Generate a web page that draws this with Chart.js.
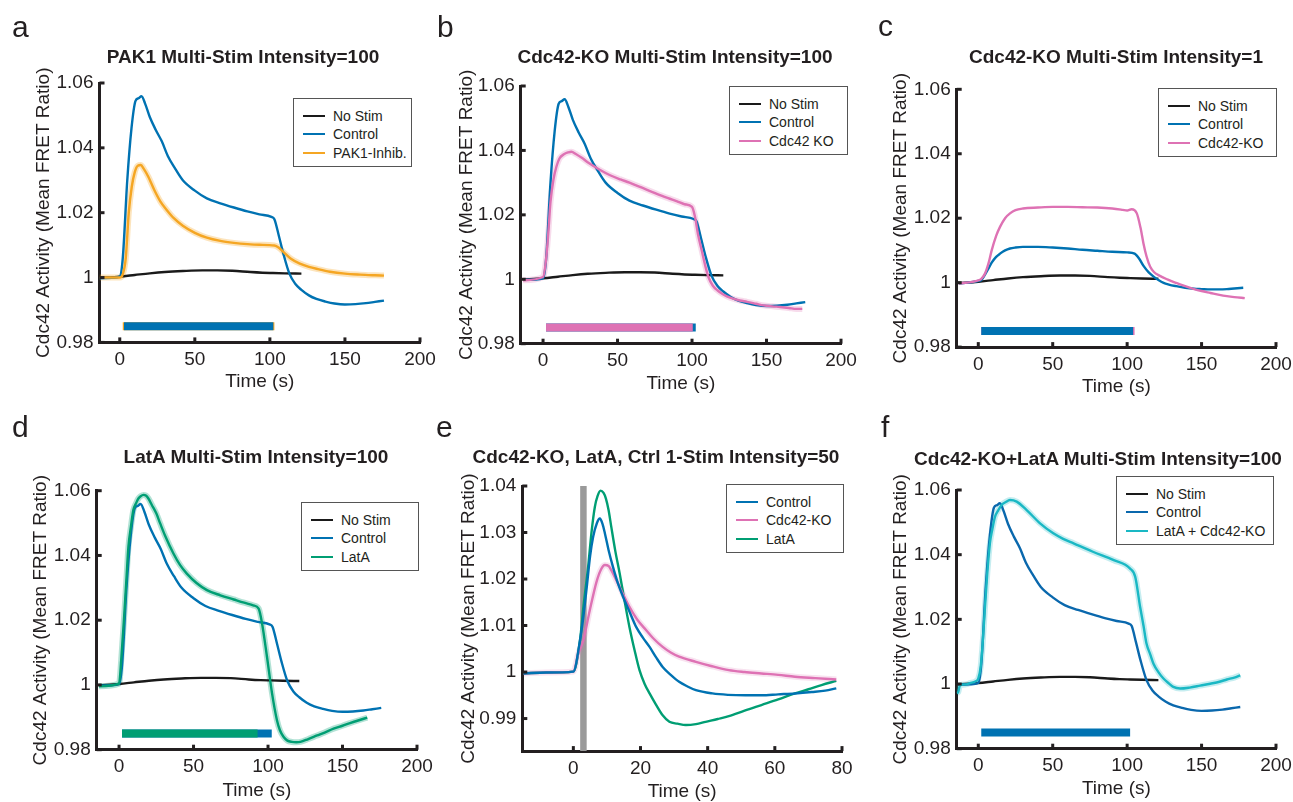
<!DOCTYPE html>
<html lang="en">
<head>
<meta charset="UTF-8">
<title>Cdc42 Activity</title>
<script src="https://cdn.jsdelivr.net/npm/chart.js"></script>
<style>
  body { margin:0; width:1293px; height:802px; background:#fff; position:relative; overflow:hidden;
         font-family:"Liberation Sans", Arial, sans-serif; color:#231f20; }
  canvas { position:absolute; }
  .letter { position:absolute; font-size:30px; line-height:30px; }
  .ttl { position:absolute; width:460px; text-align:center; font-weight:bold; font-size:19px; line-height:19px; white-space:nowrap; }
  .lg { position:absolute; border:1.5px solid #555; background:#fff; box-sizing:border-box; }
  .lg .row { position:absolute; left:0; height:14px; font-size:14px; line-height:14px; white-space:nowrap; }
  .lg .ln { position:absolute; left:9px; top:6px; width:22px; height:2px; }
  .lg .tx { position:absolute; left:39px; top:0; }
</style>
</head>
<body>
<script>
// ---- data (time in s, mean FRET ratio) ----
const noStimT = [-13.5, 0, 10, 20, 30, 42, 55, 65, 75, 87, 95, 102, 110, 121];
const noStimY = [0.9999, 1.0003, 1.0008, 1.0013, 1.0017, 1.0020, 1.0022, 1.0022, 1.0021, 1.0017, 1.0015, 1.0014, 1.0013, 1.0012];

const ctrlT = [-13.5, -5, 0, 2, 5, 7.8, 10.5, 12.5, 14.5, 17, 20, 24, 28, 32, 37, 42, 50, 58, 67, 76,
               85, 93, 101, 103, 106, 109, 113, 117, 121, 126, 131, 137, 143, 150, 157, 164, 170, 176];
const ctrlY = [0.9998, 0.9999, 1.0003, 1.006, 1.030, 1.046, 1.0545, 1.0553, 1.0559, 1.0535, 1.0495, 1.0455, 1.042, 1.0375, 1.0335, 1.0300, 1.0268, 1.0244, 1.0229, 1.0216,
               1.0204, 1.0195, 1.0187, 1.0180, 1.0128, 1.0073, 1.0012, 0.9980, 0.9962, 0.9945, 0.9934, 0.9926, 0.9920, 0.9917, 0.9918, 0.9921, 0.9925, 0.9929];

const pakT = [-13.5, 0, 2, 4, 6, 8, 10, 12, 14, 16, 19, 23, 27, 31, 36, 42, 50, 58, 67, 76,
              85, 93, 103, 106, 109, 114, 120, 126, 132, 140, 150, 160, 170, 176];
const pakY = [1.0, 1.0, 1.001, 1.006, 1.020, 1.028, 1.0325, 1.0345, 1.0347, 1.0335, 1.0311, 1.027, 1.0235, 1.021, 1.0183, 1.016, 1.0138, 1.0123, 1.0113, 1.0107,
              1.0103, 1.0101, 1.0099, 1.0092, 1.0079, 1.0058, 1.0043, 1.0033, 1.0026, 1.0018, 1.0012, 1.0009, 1.0007, 1.0006];

const koT = [-13.5, 0, 2, 3.5, 5, 7, 9, 11, 14, 17, 19, 22, 26, 31, 38, 45, 52, 58, 66, 76,
             84, 90, 95, 100, 102, 104, 106.5, 109, 111, 114, 117, 121, 126, 132, 137, 143, 148, 154, 159, 165, 170, 174];
const koY = [0.9997, 1.0007, 1.006, 1.0142, 1.024, 1.031, 1.035, 1.0375, 1.0388, 1.0394, 1.0396, 1.0389, 1.0377, 1.036, 1.034, 1.0323, 1.031, 1.030, 1.0285, 1.0266,
             1.0252, 1.0242, 1.0233, 1.0225, 1.0194, 1.014, 1.009, 1.004, 1.0007, 0.998, 0.9966, 0.9953, 0.9942, 0.9934, 0.993, 0.9924, 0.9919, 0.9916, 0.9914, 0.9911, 0.9908, 0.9908];

const cCtrlT = [-13, 0, 2, 4.5, 7, 9, 12, 14.6, 18, 21.3, 25, 30, 40, 50, 60, 70, 80, 90, 100, 105,
                108, 111, 114.5, 118, 121, 124.5, 128, 133, 139, 145, 150, 156, 162, 167, 172, 178];
const cCtrlY = [0.9997, 1.0005, 1.0008, 1.0025, 1.0045, 1.0062, 1.008, 1.009, 1.0100, 1.0106, 1.0109, 1.0111, 1.0111, 1.0109, 1.0106, 1.0102, 1.0099, 1.0096, 1.0094, 1.009,
                1.0075, 1.0052, 1.0032, 1.0018, 1.0008, 0.9999, 0.9994, 0.9989, 0.9984, 0.9981, 0.998, 0.9979, 0.9979, 0.998, 0.9982, 0.9984];

const cKoT = [-13, 0, 2, 4.5, 7, 9, 12, 14.6, 18, 21.3, 25, 30, 40, 50, 60, 70, 80, 90, 97, 100,
              103, 106.5, 109, 111, 113, 115.5, 118, 122, 127, 133, 139, 145, 150, 156, 162, 167, 172, 179];
const cKoY = [0.9997, 1.0007, 1.0012, 1.0028, 1.0062, 1.01, 1.0145, 1.0173, 1.0200, 1.0215, 1.0225, 1.023, 1.0233, 1.0235, 1.0235, 1.0234, 1.0233, 1.023, 1.0226, 1.0224,
              1.0228, 1.0215, 1.017, 1.0121, 1.0082, 1.0049, 1.0033, 1.0021, 1.001, 0.9999, 0.9989, 0.998, 0.9974, 0.9968, 0.9962, 0.9958, 0.9955, 0.9952];

const latT = [-13.5, 0, 1.5, 3.4, 5, 6.3, 8, 9.6, 11.5, 13, 14.5, 16.4, 18, 19.7, 22, 25, 27.6, 31, 36.5, 41,
              45.5, 52, 59, 68, 77, 84, 90, 93.7, 96, 99.3, 102.7, 106, 108, 110.5, 113, 116, 119, 121.7, 127, 133,
              138, 144, 150, 155, 161, 166.6];
const latY = [0.9996, 1.0004, 1.008, 1.021, 1.033, 1.0427, 1.049, 1.054, 1.0562, 1.0576, 1.0583, 1.0587, 1.0585, 1.0576, 1.0556, 1.053, 1.0499, 1.046, 1.0406, 1.037,
              1.0344, 1.0315, 1.0293, 1.0277, 1.0264, 1.0254, 1.0246, 1.0236, 1.019, 1.0087, 0.9974, 0.9891, 0.986, 0.9839, 0.9828, 0.9824, 0.9823, 0.9824, 0.9833, 0.9844,
              0.9853, 0.9865, 0.9874, 0.9882, 0.9891, 0.9899];

const latKoT = [-14.5, -13.5, -12.3, -8, -5.6, -2, 0, 1.6, 3, 4.5, 6, 7.8, 9.5, 11.2, 13.5, 15.7, 18.5, 21.3, 25.8, 32.5,
                41.5, 50.4, 57, 64, 77, 91, 102, 105.4, 108.7, 111, 113, 115.5, 117.7, 121, 124.4, 128, 131, 135.6, 142, 149,
                155.8, 162, 167, 172, 176];
const latKoY = [0.9972, 0.9975, 0.9996, 0.9999, 1.0003, 1.0008, 1.0017, 1.0053, 1.013, 1.0239, 1.034, 1.0435, 1.048, 1.0517, 1.0538, 1.0554, 1.0563, 1.0569, 1.0564, 1.0538,
                1.0497, 1.0466, 1.0449, 1.0435, 1.0409, 1.0383, 1.0357, 1.0332, 1.0239, 1.018, 1.0125, 1.0092, 1.0063, 1.0037, 1.0017, 1.0002, 0.9991, 0.9986, 0.9989, 0.9995,
                1.0001, 1.0007, 1.0014, 1.002, 1.0027];

// panel e: single stimulus, intensity 50
const eCtrlT = [-14.8, -8, 0, 2, 3, 4, 5, 5.9, 7, 7.9, 8.7, 9.4, 10.5, 11.8, 13.3, 14.8, 16.7, 18.7, 20.7, 22.7,
                24.6, 26.6, 29, 31.5, 34, 36.5, 41.4, 46, 51.2, 56, 61, 66, 71, 75, 78.3];
const eCtrlY = [0.9997, 0.9999, 1.0001, 1.0069, 1.012, 1.0183, 1.025, 1.0291, 1.032, 1.033, 1.0318, 1.0298, 1.0262, 1.0226, 1.019, 1.0162, 1.013, 1.0097, 1.0074, 1.0054,
                1.0032, 1.0011, 0.9994, 0.9979, 0.9969, 0.9961, 0.9954, 0.9951, 0.995, 0.995, 0.9952, 0.9954, 0.9957, 0.996, 0.9965];
const eKoT = [-14.8, -8, 0, 1.5, 3, 4.9, 6.9, 8.2, 9.4, 10.5, 11.3, 12.5, 13.8, 16.7, 19, 21.7, 24, 26.6, 29, 31.5,
              36.5, 41, 46.3, 51, 56, 61, 66, 72, 78.3];
const eKoY = [0.9997, 0.9999, 1.0001, 1.004, 1.0069, 1.0133, 1.0194, 1.022, 1.023, 1.0228, 1.0219, 1.0202, 1.0183, 1.014, 1.0113, 1.009, 1.0071, 1.0054, 1.0042, 1.0033,
              1.0022, 1.0013, 1.0004, 1.0, 0.9997, 0.9994, 0.999, 0.9987, 0.9984];
const eLatT = [-14.8, -8, 0, 2, 3, 4.4, 5.4, 6.4, 7.2, 8.1, 9, 9.7, 10.5, 11.3, 12.5, 13.8, 15.2, 16.7, 18.2, 19.7,
               21.2, 22.7, 24.6, 26.6, 28.6, 31, 33.5, 36.5, 39.4, 43, 46.3, 51, 56, 61, 66, 70, 73.9, 78.3];
const eLatY = [0.9997, 0.9999, 1.0001, 1.0069, 1.014, 1.0226, 1.03, 1.0355, 1.0378, 1.039, 1.0385, 1.0373, 1.0348, 1.0312, 1.026, 1.0212, 1.0155, 1.0097, 1.0048, 1.0004,
               0.9975, 0.9954, 0.993, 0.9907, 0.9893, 0.9889, 0.9886, 0.9888, 0.9893, 0.9899, 0.9905, 0.9917, 0.9929, 0.9941, 0.9954, 0.9963, 0.9972, 0.9981];

// stimulation periods (s) and level of the stim bar
const stimLevel = 0.985;
const stimA = [2, 103], stimA2 = [2.8, 102.3];
const stimB = [2, 102.5], stimB2 = [2, 100.5];
const stimC = [2, 105], stimC2 = [2, 104];
const stimD = [2, 102.5], stimD2 = [2, 93];
const stimF = [2, 102];
const pulseE = [3, 0.983, 1.04];   // x, y from, y to

// axis ticks
const xTicks = [0, 50, 100, 150, 200];
const yTicks = [0.98, 1, 1.02, 1.04, 1.06];
const xTicksE = [0, 20, 40, 60, 80];
const yTicksE = [0.99, 1, 1.01, 1.02, 1.03, 1.04];

// ---- styles ----
const FONT = '"Liberation Sans", Arial, sans-serif';
const INK = '#231f20';
const C = { black: '#1a1a1a', blue: '#0072b2', orange: '#f5a623', pink: '#de72b4', green: '#009e73', cyan: '#1ab8c4', gray: '#9a9a9a' };

function xy(ts, ys) { return ts.map((t, i) => ({ x: t, y: ys[i] })); }
function curve(label, ts, ys, color, order) {
  return { label, data: xy(ts, ys), borderColor: color, borderWidth: 2.4, pointRadius: 0,
           cubicInterpolationMode: 'monotone', order: order };
}
function band(ts, ys, color) {
  return { data: xy(ts, ys), borderColor: color, borderWidth: 6, pointRadius: 0,
           cubicInterpolationMode: 'monotone', order: 8 };
}
function bar(range, color, order) {
  return { data: [{ x: range[0], y: stimLevel }, { x: range[1], y: stimLevel }], borderColor: color,
           borderWidth: 8, borderCapStyle: 'butt', pointRadius: 0, order: order };
}

const inwardTicks = {
  id: 'inwardTicks',
  afterDraw(chart) {
    const { ctx, scales: { x, y } } = chart;
    ctx.save();
    ctx.strokeStyle = INK; ctx.lineWidth = 3;
    x.ticks.forEach(t => {
      const px = x.getPixelForValue(t.value);
      ctx.beginPath(); ctx.moveTo(px, y.bottom); ctx.lineTo(px, y.bottom - 5); ctx.stroke();
    });
    y.ticks.forEach(t => {
      const py = y.getPixelForValue(t.value);
      ctx.beginPath(); ctx.moveTo(x.left, py); ctx.lineTo(x.left + 5, py); ctx.stroke();
    });
    ctx.restore();
  }
};

function panel(g, xr, yr, xt, yt, datasets) {
  const pl = g.yTitleX - 13.6 - g.x0;
  const W = Math.round(g.r - g.x0 + 32);
  const H = Math.round(g.xTitleY + 13.6 - g.y0);
  const cv = document.createElement('canvas');
  cv.width = W; cv.height = H;
  cv.style.left = g.x0 + 'px'; cv.style.top = g.y0 + 'px';
  document.body.appendChild(cv);
  new Chart(cv, {
    type: 'line',
    data: { datasets },
    options: {
      responsive: false, animation: false, devicePixelRatio: 1,
      layout: { padding: { left: pl, right: 32, top: g.t - g.y0, bottom: 0 } },
      plugins: { legend: { display: false }, tooltip: { enabled: false } },
      scales: {
        x: {
          type: 'linear', min: xr[0], max: xr[1],
          grid: { display: false, drawTicks: false },
          border: { color: INK, width: 3 },
          afterBuildTicks: s => { s.ticks = xt.map(v => ({ value: v })); },
          afterFit: s => { s.height = g.xTitleY + 13.6 - g.b; },
          ticks: { color: INK, font: { family: FONT, size: 19 }, padding: 6, maxRotation: 0, autoSkip: false },
          title: { display: true, text: 'Time (s)', color: INK, font: { family: FONT, size: 19 } }
        },
        y: {
          type: 'linear', min: yr[0], max: yr[1],
          grid: { display: false, drawTicks: false },
          border: { color: INK, width: 3 },
          afterBuildTicks: s => { s.ticks = yt.map(v => ({ value: v })); },
          afterFit: s => { s.width = g.l - g.x0 - pl; },
          ticks: { color: INK, font: { family: FONT, size: 19 }, padding: 6, autoSkip: false,
                   callback: v => (Math.abs(v - 1) < 1e-9 ? '1' : v.toFixed(2)) },
          title: { display: true, text: 'Cdc42 Activity (Mean FRET Ratio)', color: INK, font: { family: FONT, size: 19 } }
        }
      }
    },
    plugins: [inwardTicks]
  });
}

function label(letter, x, baseline, title, cx, tBase) {
  const l = document.createElement('div');
  l.className = 'letter'; l.textContent = letter;
  l.style.left = x + 'px'; l.style.top = (baseline - 25.4) + 'px';
  document.body.appendChild(l);
  const t = document.createElement('div');
  t.className = 'ttl'; t.textContent = title;
  t.style.left = (cx - 230) + 'px'; t.style.top = Math.round(tBase - 16) + 'px';
  document.body.appendChild(t);
}

function legend(x, y, w, entries) {
  const box = document.createElement('div');
  box.className = 'lg';
  box.style.left = x + 'px'; box.style.top = y + 'px';
  box.style.width = w + 'px'; box.style.height = '69px';
  entries.forEach((e, i) => {
    const r = document.createElement('div');
    r.className = 'row'; r.style.top = Math.round(9.5 + i * 18.5) + 'px'; r.style.width = '100%';
    r.innerHTML = '<span class="ln" style="background:' + e.borderColor + '"></span><span class="tx"></span>';
    r.querySelector('.tx').textContent = e.label;
    box.appendChild(r);
  });
  document.body.appendChild(box);
}

// ---- panel a ----
const aNo = curve('No Stim', noStimT, noStimY, C.black, 3);
const aCtrl = curve('Control', ctrlT, ctrlY, C.blue, 2);
const aPak = curve('PAK1-Inhib.', pakT, pakY, C.orange, 1);
panel({ x0: 0, y0: 0, l: 99.5, r: 420, t: 83, b: 342, yTitleX: 42, xTitleY: 383 },
      [-13.5, 200], [0.98, 1.06], xTicks, yTicks,
      [aNo, aCtrl, aPak, band(pakT, pakY, 'rgba(245,166,35,0.3)'), bar(stimA, C.orange, 0.6), bar(stimA2, C.blue, 0.5)]);

// ---- panel b ----
const bNo = curve('No Stim', noStimT, noStimY, C.black, 3);
const bCtrl = curve('Control', ctrlT, ctrlY, C.blue, 2);
const bKo = curve('Cdc42 KO', koT, koY, C.pink, 1);
panel({ x0: 430, y0: 0, l: 520.7, r: 841, t: 86, b: 343.3, yTitleX: 465, xTitleY: 385 },
      [-15, 200], [0.98, 1.06], xTicks, yTicks,
      [bNo, bCtrl, bKo, band(koT, koY, 'rgba(222,114,180,0.25)'), bar(stimB, C.blue, 0.6), bar(stimB2, C.pink, 0.5)]);

// ---- panel c ----
const cNo = curve('No Stim', noStimT, noStimY, C.black, 3);
const cCtrl = curve('Control', cCtrlT, cCtrlY, C.blue, 2);
const cKo = curve('Cdc42-KO', cKoT, cKoY, C.pink, 1);
panel({ x0: 860, y0: 0, l: 956.7, r: 1276, t: 89.3, b: 346.7, yTitleX: 899, xTitleY: 388 },
      [-14.5, 200], [0.98, 1.06], xTicks, yTicks,
      [cNo, cCtrl, cKo, bar(stimC, C.pink, 0.6), bar(stimC2, C.blue, 0.5)]);

// ---- panel d ----
const dNo = curve('No Stim', noStimT, noStimY, C.black, 3);
const dCtrl = curve('Control', ctrlT, ctrlY, C.blue, 2);
const dLat = curve('LatA', latT, latY, C.green, 1);
panel({ x0: 0, y0: 400, l: 96.7, r: 416.5, t: 490.7, b: 749.3, yTitleX: 39, xTitleY: 792 },
      [-15, 200], [0.98, 1.06], xTicks, yTicks,
      [dNo, dCtrl, dLat, band(latT, latY, 'rgba(0,158,115,0.3)'), bar(stimD, C.blue, 0.6), bar(stimD2, C.green, 0.5)]);

// ---- panel e ----
const eCtrl = curve('Control', eCtrlT, eCtrlY, C.blue, 1);
const eKo = curve('Cdc42-KO', eKoT, eKoY, C.pink, 2);
const eLat = curve('LatA', eLatT, eLatY, C.green, 3);
const ePulse = { data: [{ x: pulseE[0], y: pulseE[1] }, { x: pulseE[0], y: pulseE[2] }], borderColor: C.gray,
                 borderWidth: 6.5, borderCapStyle: 'butt', pointRadius: 0, order: 9 };
panel({ x0: 430, y0: 400, l: 522.3, r: 842.3, t: 486, b: 750.7, yTitleX: 467, xTitleY: 793 },
      [-15.2, 80], [0.983, 1.04], xTicksE, yTicksE,
      [eCtrl, eKo, eLat, band(eKoT, eKoY, 'rgba(222,114,180,0.2)'), ePulse]);

// ---- panel f ----
const fNo = curve('No Stim', noStimT, noStimY, C.black, 3);
const fCtrl = curve('Control', ctrlT, ctrlY, '#0a68ad', 2);
const fLk = curve('LatA + Cdc42-KO', latKoT, latKoY, C.cyan, 1);
panel({ x0: 860, y0: 400, l: 956.7, r: 1276, t: 490, b: 748.3, yTitleX: 899, xTitleY: 790 },
      [-14.5, 200], [0.98, 1.06], xTicks, yTicks,
      [fNo, fCtrl, fLk, band(latKoT, latKoY, 'rgba(26,184,196,0.25)'), bar(stimF, C.blue, 0.5)]);

// ---- labels, titles, legends ----
label('a', 12, 37, 'PAK1 Multi-Stim Intensity=100', 243, 63);
label('b', 437, 37, 'Cdc42-KO Multi-Stim Intensity=100', 675, 63);
label('c', 878, 36, 'Cdc42-KO Multi-Stim Intensity=1', 1116, 63);
label('d', 12, 437, 'LatA Multi-Stim Intensity=100', 256, 463);
label('e', 436, 437, 'Cdc42-KO, LatA, Ctrl 1-Stim Intensity=50', 656, 463);
label('f', 881, 437, 'Cdc42-KO+LatA Multi-Stim Intensity=100', 1098, 465);

legend(293, 98, 119, [aNo, aCtrl, aPak]);
legend(729, 86, 119, [bNo, bCtrl, bKo]);
legend(1158, 88, 119, [cNo, cCtrl, cKo]);
legend(301, 502, 118, [dNo, dCtrl, dLat]);
legend(726, 484, 118, [eCtrl, eKo, eLat]);
legend(1116, 476, 158, [fNo, fCtrl, fLk]);
</script>
</body>
</html>
